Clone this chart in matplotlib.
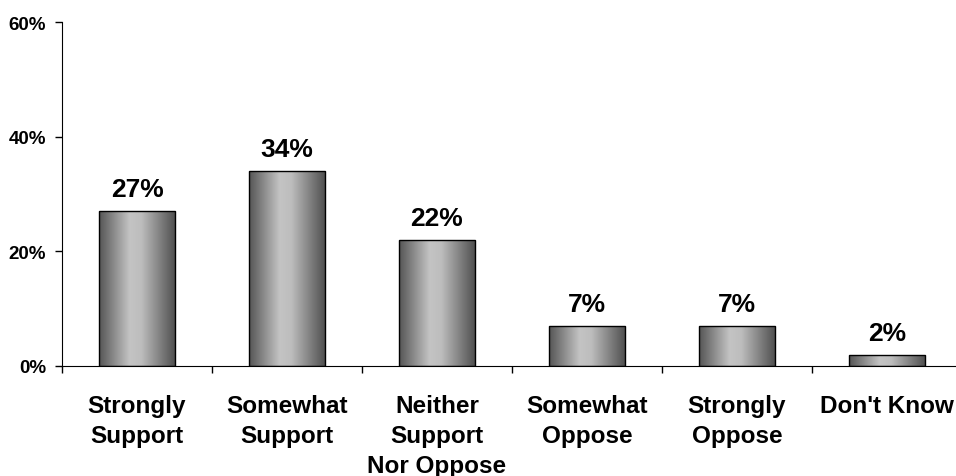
import numpy as np
import matplotlib.pyplot as plt
from matplotlib.colors import LinearSegmentedColormap

categories = ["Strongly\nSupport", "Somewhat\nSupport", "Neither\nSupport\nNor Oppose",
              "Somewhat\nOppose", "Strongly\nOppose", "Don't Know"]
values = [27, 34, 22, 7, 7, 2]
yticks = [0, 20, 40, 60]

plt.rcParams['font.family'] = ['Liberation Sans', 'DejaVu Sans']
plt.rcParams['font.weight'] = 'bold'

fig = plt.figure(figsize=(9.56, 4.77), dpi=100)
ax = fig.add_axes([62/956, 110/477, 900/956, 344/477])

# metallic gray gradient across each bar
grad = LinearSegmentedColormap.from_list(
    "metal", [(0, "#555555"), (0.4, "#c4c4c4"), (0.55, "#bdbdbd"), (1, "#4e4e4e")])
x = np.arange(len(values))
w = 0.51
bars = ax.bar(x, values, width=w, color="none", edgecolor="black", linewidth=1, zorder=3)
g = np.linspace(0, 1, 256).reshape(1, -1)
for b in bars:
    x0, y0 = b.get_x(), b.get_y()
    im = ax.imshow(g, cmap=grad, aspect="auto", extent=[x0, x0 + b.get_width(), y0, y0 + b.get_height()],
                   zorder=2, interpolation="bicubic")
    im.set_clip_path(b)

for xi, v in zip(x, values):
    ax.text(xi, v + 2.6, f"{v}%", ha="center", va="baseline", fontsize=19, fontweight="bold")

ax.set_xlim(-0.5, len(values) - 0.5)
ax.set_ylim(0, 60)
ax.set_yticks(yticks)
ax.set_yticklabels([f"{t}%" for t in yticks], fontsize=13.5, fontweight="bold")
ax.set_xticks(x)
ax.set_xticklabels(categories, fontsize=17.5, fontweight="bold", linespacing=1.4)
ax.tick_params(axis="x", length=0, pad=20)
ax.set_xticks(np.arange(len(values) + 1) - 0.5, minor=True)
ax.tick_params(axis="x", which="minor", length=5, width=1, direction="out")
ax.tick_params(axis="y", length=5, width=1, direction="out", pad=6.5)
ax.spines["top"].set_visible(False)
ax.spines["right"].set_visible(False)

fig.savefig("out.png", dpi=100)
